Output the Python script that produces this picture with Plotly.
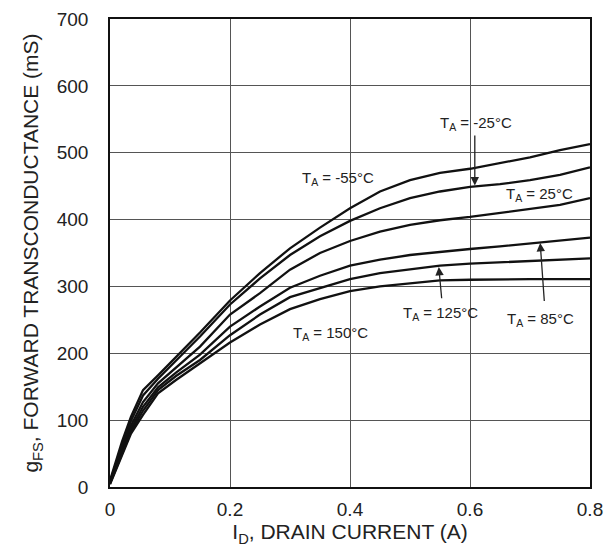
import plotly.graph_objects as go

current = [0, 0.01, 0.02, 0.035, 0.055, 0.08, 0.11, 0.15, 0.2, 0.25, 0.3, 0.35,
           0.4, 0.45, 0.5, 0.55, 0.6, 0.65, 0.7, 0.75, 0.8]

gfs_m55 = [10, 40, 68, 105, 145, 167, 194, 231, 279, 320, 357, 388, 417, 442, 459, 470, 476, 484, 493, 504, 513]
gfs_m25 = [8, 36, 62, 99, 137, 162, 189, 225, 273, 312, 347, 375, 398, 417, 432, 442, 449, 453, 459, 467, 478]
gfs_25 = [7, 33, 57, 92, 127, 155, 178, 210, 258, 290, 325, 350, 368, 382, 392, 399, 404, 410, 416, 422, 432]
gfs_85 = [6, 30, 53, 87, 120, 149, 171, 198, 240, 270, 298, 316, 331, 340, 347, 352, 356, 360, 364, 368, 373]
gfs_125 = [5, 28, 50, 83, 114, 145, 166, 190, 227, 258, 284, 298, 311, 320, 326, 331, 334, 336, 338, 340, 342]
gfs_150 = [4, 26, 47, 80, 108, 140, 160, 185, 216, 243, 266, 281, 293, 300, 305, 309, 310, 311, 311, 311, 311]

series = [gfs_m55, gfs_m25, gfs_25, gfs_85, gfs_125, gfs_150]

x_ticks = [0, 0.2, 0.4, 0.6, 0.8]
x_tick_labels = ["0", "0.2", "0.4", "0.6", "0.8"]
y_ticks = [0, 100, 200, 300, 400, 500, 600, 700]

FAM = "Liberation Sans, Arial, sans-serif"

fig = go.Figure()
for s in series:
    fig.add_trace(go.Scatter(x=current, y=s, mode="lines",
                             line=dict(color="#111111", width=2.3),
                             showlegend=False, hoverinfo="skip"))

font_txt = dict(family=FAM, size=15, color="#222222")

labels = [
    ("T<sub>A</sub> = -55°C", 0.38, 462),
    ("T<sub>A</sub> = -25°C", 0.61, 543),
    ("T<sub>A</sub> = 25°C", 0.716, 437),
    ("T<sub>A</sub> = 85°C", 0.717, 251),
    ("T<sub>A</sub> = 125°C", 0.55, 260),
    ("T<sub>A</sub> = 150°C", 0.368, 230),
]
for t, xx, yy in labels:
    fig.add_annotation(x=xx, y=yy, text=t, showarrow=False, font=font_txt,
                       xref="x", yref="y")

arrows = [
    (0.608, 451, 0.608, 528),
    (0.717, 365, 0.724, 276),
    (0.548, 329, 0.553, 280),
]
for hx, hy, tx, ty in arrows:
    fig.add_annotation(x=hx, y=hy, ax=tx, ay=ty, xref="x", yref="y",
                       axref="x", ayref="y", text="", showarrow=True,
                       arrowhead=2, arrowsize=1.3, arrowwidth=1.3,
                       arrowcolor="#222222")

axis_common = dict(showline=True, linecolor="#111111", linewidth=1.5, mirror=True,
                   showgrid=True, gridcolor="#555555", gridwidth=1, zeroline=False,
                   ticks="", tickfont=dict(family=FAM, size=19, color="#222222"))

fig.update_xaxes(range=[0, 0.8], tickvals=x_ticks, ticktext=x_tick_labels,
                 ticklabelstandoff=4,
                 title=dict(text="I<sub>D</sub>, DRAIN CURRENT (A)",
                            font=dict(family=FAM, size=21, color="#222222"), standoff=6),
                 **axis_common)
fig.update_yaxes(range=[0, 700], tickvals=y_ticks, ticklabelstandoff=16,
                 title=dict(text="g<sub>FS</sub>, FORWARD TRANSCONDUCTANCE (mS)",
                            font=dict(family=FAM, size=21, color="#222222"), standoff=12),
                 **axis_common)

fig.update_layout(width=615, height=552, autosize=False,
                  margin=dict(l=110, r=25, t=9, b=65),
                  plot_bgcolor="white", paper_bgcolor="white")

fig.write_html("out.html", config={"displayModeBar": False},
               post_script="document.body.style.margin='0';")
